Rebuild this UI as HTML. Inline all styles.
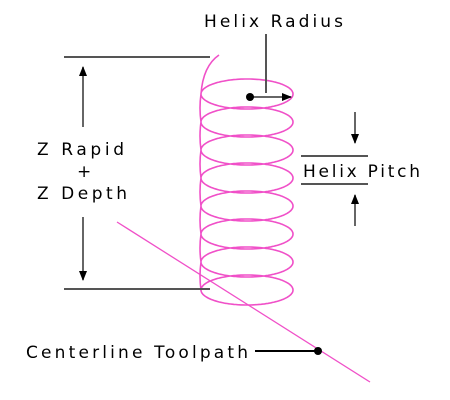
<!DOCTYPE html>
<html><head><meta charset="utf-8">
<style>
html,body{margin:0;padding:0;background:#fff;}
svg{display:block;}
text{font-family:"DejaVu Sans","Liberation Sans",sans-serif;font-size:17px;fill:#000;}
</style></head>
<body>
<svg width="450" height="400" viewBox="0 0 450 400">
<defs>
<marker id="ah" markerWidth="10" markerHeight="8" refX="9" refY="4" orient="auto" markerUnits="userSpaceOnUse">
<path d="M0,0 L10,4 L0,8 Z" fill="#000"/></marker>
</defs>
<path id="helix" fill="none" stroke="#f050c8" stroke-width="1.6"/>
<line x1="117" y1="222" x2="370" y2="382" stroke="#f050c8" stroke-width="1.3"/>
<g stroke="#555" stroke-width="2">
<line x1="64" y1="57" x2="210" y2="57"/>
<line x1="64" y1="289" x2="210" y2="289"/>
<line x1="301" y1="156" x2="368" y2="156"/>
<line x1="301" y1="184" x2="368" y2="184"/>
<line x1="266" y1="34" x2="266" y2="93"/>
</g>
<g stroke="#333" stroke-width="1.5">
<line x1="83" y1="127" x2="83" y2="67" marker-end="url(#ah)"/>
<line x1="83" y1="217" x2="83" y2="280" marker-end="url(#ah)"/>
<line x1="355" y1="112" x2="355" y2="143" marker-end="url(#ah)"/>
<line x1="355" y1="226" x2="355" y2="195" marker-end="url(#ah)"/>
<line x1="250" y1="97" x2="291" y2="97" marker-end="url(#ah)"/>
<line x1="255" y1="351" x2="318" y2="351" stroke="#000" stroke-width="2"/>
</g>
<circle cx="250" cy="97" r="4" fill="#000"/>
<circle cx="318" cy="351" r="4" fill="#000"/>
<text x="204" y="27" textLength="139" lengthAdjust="spacing">Helix Radius</text>
<text x="37" y="155" textLength="87" lengthAdjust="spacing">Z Rapid</text>
<text x="77" y="177">+</text>
<text x="37" y="199" textLength="90" lengthAdjust="spacing">Z Depth</text>
<text x="303" y="177" textLength="117" lengthAdjust="spacing">Helix Pitch</text>
<text x="26" y="358" textLength="222" lengthAdjust="spacing">Centerline Toolpath</text>
</svg>
<script>
var cx=247, a=46, b=15, cy0=94, pitch=28, turns=8;
var d='M219,55 Q203,66 201,'+cy0;
for(var k=0;k<turns;k++){
  var cy=cy0+pitch*k;
  for(var t=Math.PI; t<=3*Math.PI+0.001; t+=0.04){
    var x=cx+a*Math.cos(t), y=cy+b*Math.sin(t);
    d+='L'+x.toFixed(1)+','+y.toFixed(1);
  }
  if(k<turns-1){ d+='Q199,'+(cy+pitch/2)+' 201,'+(cy+pitch); }
}
document.getElementById('helix').setAttribute('d',d);
</script>
</body></html>
